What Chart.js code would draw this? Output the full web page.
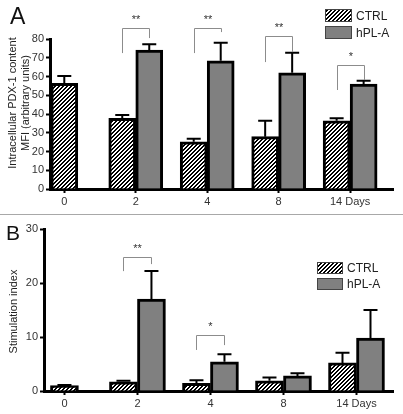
<!DOCTYPE html>
<html>
<head>
<meta charset="utf-8">
<script src="https://cdn.jsdelivr.net/npm/chart.js@4.4.1/dist/chart.umd.min.js"></script>
<style>
  body { margin: 0; background: #fff; width: 403px; height: 414px; overflow: hidden; position: relative; font-family: "Liberation Sans", Arial, sans-serif; }
  canvas { position: absolute; left: 0; }
  #chartA { top: 0; }
  #chartB { top: 215px; }
  .sep { position: absolute; left: 0; top: 214px; width: 403px; height: 1px; background: #a8a8a8; }
  .panel { position: absolute; line-height: 1; color: #111; }
  .ytitle { position: absolute; transform: rotate(-90deg); white-space: nowrap; text-align: center; font-size: 11px; line-height: 13px; color: #222; }
</style>
</head>
<body>
<canvas id="chartA" width="403" height="210"></canvas>
<div class="sep"></div>
<canvas id="chartB" width="403" height="199"></canvas>

<div class="panel" style="left:10px;top:5px;font-size:23px;">A</div>
<div class="panel" style="left:6px;top:222px;font-size:21px;">B</div>
<div class="ytitle" style="left:-66px;top:90px;width:170px;height:26px;">Intracellular PDX-1 content<br>MFI (arbitrary units)</div>
<div class="ytitle" style="left:-47px;top:305px;width:120px;height:13px;">Stimulation index</div>

<script>
/***********************
 * DATA
 ***********************/
const days = ["0", "2", "4", "8", "14 Days"];
const seriesNames = ["CTRL", "hPL-A"];

// panel A : MFI
const ctrlMfi = [56.4, 37.7, 25.2, 27.9, 36.4];
const ctrlMfiErr = [3.9, 1.8, 1.6, 8.5, 1.3];
const hplMfi = [null, 74.1, 68.4, 62.0, 56.0];
const hplMfiErr = [null, 3.1, 9.6, 10.7, 1.8];
const mfiTicks = [0, 10, 20, 30, 40, 50, 60, 70, 80];

// significance brackets A (group, left leg foot, bar top, right leg foot)
const sigMfiGroup = [1, 2, 3, 4];
const sigMfiMark = ["**", "**", "**", "*"];
const sigMfiLeft = [72.5, 72.5, 67.7, 52.8];
const sigMfiTop = [85.9, 85.9, 81.6, 66.1];
const sigMfiRight = [80.5, 83.7, 73.0, 58.1];

// panel B : stimulation index
const ctrlSi = [1.0, 1.7, 1.4, 1.9, 5.2];
const ctrlSiErr = [0.1, 0.2, 0.6, 0.6, 1.9];
const hplSi = [null, 17.0, 5.4, 2.8, 9.8];
const hplSiErr = [null, 5.2, 1.4, 0.5, 5.2];
const siTicks = [0, 10, 20, 30];

const sigSiGroup = [1, 2];
const sigSiMark = ["**", "*"];
const sigSiLeft = [22.2, 7.6];
const sigSiTop = [24.9, 10.4];
const sigSiRight = [23.5, 8.5];

/***********************
 * Helpers
 ***********************/
Chart.defaults.font.family = '"Liberation Sans", Arial, sans-serif';
Chart.defaults.color = "#333";

function hatch(ctx) {
  const c = document.createElement("canvas");
  c.width = c.height = 4;
  const g = c.getContext("2d");
  g.fillStyle = "#fff";
  g.fillRect(0, 0, 4, 4);
  g.fillStyle = "#000";
  for (let x = 0; x < 4; x++)
    for (let y = 0; y < 4; y++)
      if ((x + y) % 4 < 2) g.fillRect(x, y, 1, 1);
  return ctx.createPattern(c, "repeat");
}

function pts(arr) {
  return arr.map((v, i) => ({ x: i, y: v }));
}

/***********************
 * Plugins
 ***********************/
const errorBars = {
  id: "errorBars",
  afterDatasetsDraw(chart) {
    const ctx = chart.ctx;
    const ys = chart.scales.y;
    ctx.save();
    ctx.strokeStyle = "#000";
    ctx.lineWidth = 2;
    chart.data.datasets.forEach((ds, di) => {
      chart.getDatasetMeta(di).data.forEach((bar, i) => {
        const v = ds.data[i].y;
        const e = ds.errors[i];
        if (v == null || e == null) return;
        const top = ys.getPixelForValue(v + e);
        ctx.beginPath();
        ctx.moveTo(bar.x, bar.y);
        ctx.lineTo(bar.x, top);
        ctx.moveTo(bar.x - 7, top);
        ctx.lineTo(bar.x + 7, top);
        ctx.stroke();
      });
    });
    ctx.restore();
  },
};

const brackets = {
  id: "brackets",
  afterDraw(chart, args, o) {
    if (!o.group) return;
    const ctx = chart.ctx;
    const ys = chart.scales.y;
    const a = chart.getDatasetMeta(0).data;
    const b = chart.getDatasetMeta(1).data;
    ctx.save();
    ctx.strokeStyle = "#8c8c8c";
    ctx.lineWidth = 1;
    ctx.fillStyle = "#333";
    ctx.font = '11px "Liberation Sans", Arial, sans-serif';
    ctx.textAlign = "center";
    ctx.textBaseline = "bottom";
    o.group.forEach((g, k) => {
      const xl = Math.round(a[g].x) + 0.5;
      const xr = Math.round(b[g].x) + 0.5;
      const yt = Math.round(ys.getPixelForValue(o.top[k])) + 0.5;
      ctx.beginPath();
      ctx.moveTo(xl, ys.getPixelForValue(o.left[k]));
      ctx.lineTo(xl, yt);
      ctx.lineTo(xr, yt);
      ctx.lineTo(xr, ys.getPixelForValue(o.right[k]));
      ctx.stroke();
      ctx.fillText(o.mark[k], (xl + xr) / 2, yt - 3);
    });
    ctx.restore();
  },
};

const boxLegend = {
  id: "boxLegend",
  afterDraw(chart, args, o) {
    const ctx = chart.ctx;
    ctx.save();
    ctx.font = '12px "Liberation Sans", Arial, sans-serif';
    ctx.textBaseline = "middle";
    ctx.textAlign = "left";
    chart.data.datasets.forEach((ds, i) => {
      const y = o.y + i * o.gap;
      ctx.fillStyle = ds.backgroundColor;
      ctx.fillRect(o.x, y, o.w, o.h);
      ctx.strokeStyle = "#444";
      ctx.lineWidth = 1;
      ctx.strokeRect(o.x + 0.5, y + 0.5, o.w - 1, o.h - 1);
      ctx.fillStyle = "#222";
      ctx.fillText(ds.label, o.x + o.w + 4, y + o.h / 2 + 1);
    });
    ctx.restore();
  },
};

/***********************
 * Charts
 ***********************/
function makeChart(id, cfg) {
  const canvas = document.getElementById(id);
  const ctx = canvas.getContext("2d");
  return new Chart(ctx, {
    type: "bar",
    data: {
      datasets: [
        { label: seriesNames[0], data: pts(cfg.ctrl), errors: cfg.ctrlErr, backgroundColor: hatch(ctx) },
        { label: seriesNames[1], data: pts(cfg.hpl), errors: cfg.hplErr, backgroundColor: "#808080" },
      ],
    },
    options: {
      responsive: false,
      animation: false,
      layout: { padding: { top: cfg.top, right: 10, left: 0, bottom: 0 } },
      datasets: {
        bar: {
          barThickness: cfg.barW,
          borderWidth: 3,
          borderColor: "#000",
          skipNull: true,
        },
      },
      plugins: {
        legend: { display: false },
        tooltip: { enabled: false },
        brackets: cfg.sig,
        boxLegend: cfg.legend,
      },
      scales: {
        x: {
          type: "linear",
          min: cfg.xmin,
          max: cfg.xmax,
          offset: false,
          afterBuildTicks: (ax) => { ax.ticks = days.map((d, i) => ({ value: i })); },
          afterFit: (ax) => { ax.height = cfg.xh; },
          ticks: { callback: (v) => days[v], font: { size: 11 }, padding: 2, maxRotation: 0, autoSkip: false },
          grid: { drawOnChartArea: false, offset: false, tickLength: 4, tickWidth: 2, tickColor: "#000" },
          border: { color: "#000", width: 3 },
        },
        y: {
          min: 0,
          max: cfg.ymax,
          afterBuildTicks: (ax) => { ax.ticks = cfg.yTicks.map((v) => ({ value: v })); },
          afterFit: (ax) => { ax.width = cfg.yw; },
          ticks: { font: { size: 11 }, padding: 2 },
          grid: { drawOnChartArea: false, tickLength: 4, tickWidth: 2, tickColor: "#000" },
          border: { color: "#000", width: 3 },
        },
      },
    },
    plugins: [errorBars, brackets, boxLegend],
  });
}

makeChart("chartA", {
  ctrl: ctrlMfi, ctrlErr: ctrlMfiErr, hpl: hplMfi, hplErr: hplMfiErr,
  ymax: 80, yTicks: mfiTicks,
  top: 39, yw: 50, xh: 21, barW: 27, xmin: -0.2, xmax: 4.6,
  sig: { group: sigMfiGroup, mark: sigMfiMark, left: sigMfiLeft, top: sigMfiTop, right: sigMfiRight },
  legend: { x: 325, y: 9, w: 27, h: 13, gap: 17 },
});

makeChart("chartB", {
  ctrl: ctrlSi, ctrlErr: ctrlSiErr, hpl: hplSi, hplErr: hplSiErr,
  ymax: 30, yTicks: siTicks,
  top: 14, yw: 44, xh: 23, barW: 28, xmin: -0.28, xmax: 4.5,
  sig: { group: sigSiGroup, mark: sigSiMark, left: sigSiLeft, top: sigSiTop, right: sigSiRight },
  legend: { x: 317, y: 47, w: 26, h: 12, gap: 16 },
});
</script>
</body>
</html>
